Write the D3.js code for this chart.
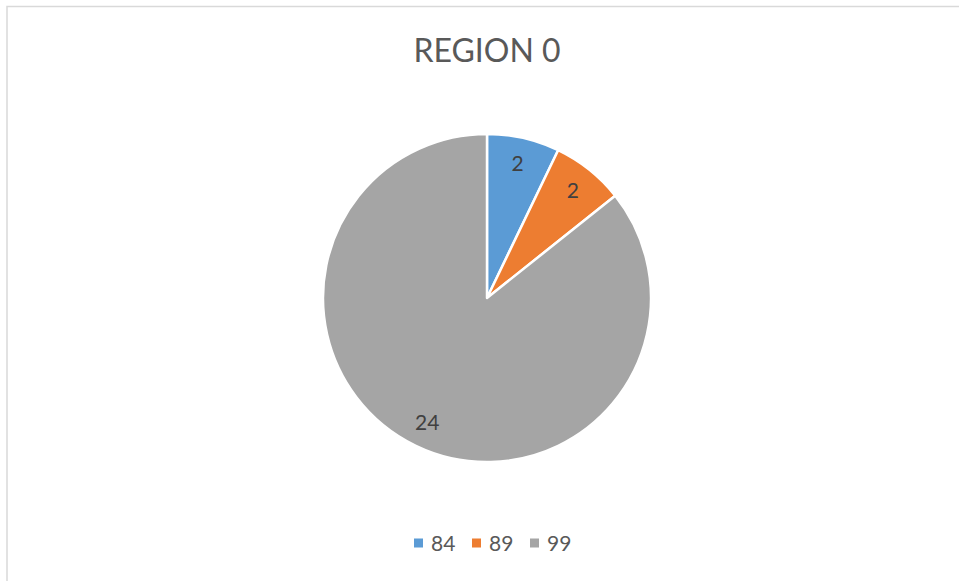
<!DOCTYPE html>
<html>
<head>
<meta charset="utf-8">
<script src="https://cdn.jsdelivr.net/npm/d3@7"></script>
<style>
  html, body { margin: 0; padding: 0; background: #fff; }
  svg { display: block; }
</style>
</head>
<body>
<script>
const title = 'REGION 0';
const categories = ['84', '89', '99'];
const values = [2, 2, 24];
const colors = ['#5B9BD5', '#ED7D31', '#A5A5A5'];

const width = 959, height = 581;
const cx = 487, cy = 298, radius = 164;
const font = 'Lato, "Open Sans", sans-serif';

const svg = d3.select('body').append('svg')
    .attr('width', width)
    .attr('height', height);

// chart area border (only top and left edges fall inside the window)
svg.append('rect')
    .attr('x', 7).attr('y', 6.5)
    .attr('width', width).attr('height', height)
    .attr('fill', '#fff')
    .attr('stroke', '#d9d9d9')
    .attr('stroke-width', 1.5);

svg.append('text')
    .attr('x', cx).attr('y', 62)
    .attr('text-anchor', 'middle')
    .attr('font-family', font)
    .attr('font-size', 32)
    .attr('fill', '#595959')
    .text(title);

const color = d3.scaleOrdinal().domain(categories).range(colors);

const pie = d3.pie().sort(null).value(d => d.value);
const arcs = pie(categories.map((c, i) => ({ cat: c, value: values[i] })));

const arc = d3.arc().innerRadius(0).outerRadius(radius);
const labelArc = d3.arc().innerRadius(radius * 0.84).outerRadius(radius * 0.84);

const g = svg.append('g').attr('transform', 'translate(' + cx + ',' + cy + ')');

g.selectAll('path.slice')
    .data(arcs)
    .enter().append('path')
    .attr('class', 'slice')
    .attr('d', arc)
    .attr('fill', d => color(d.data.cat))
    .attr('stroke', '#fff')
    .attr('stroke-width', 2.5)
    .attr('stroke-linejoin', 'round');

g.selectAll('text.lbl')
    .data(arcs)
    .enter().append('text')
    .attr('class', 'lbl')
    .attr('transform', d => 'translate(' + labelArc.centroid(d) + ')')
    .attr('text-anchor', 'middle')
    .attr('dy', '0.36em')
    .attr('font-family', font)
    .attr('font-size', 21)
    .attr('fill', '#404040')
    .text(d => d.data.value);

// legend
const legendX = d3.scalePoint().domain(categories).range([414, 530]);
const legend = svg.append('g');
const items = legend.selectAll('g')
    .data(categories)
    .enter().append('g')
    .attr('transform', d => 'translate(' + legendX(d) + ',543)');
items.append('rect')
    .attr('x', 0).attr('y', -4.5)
    .attr('width', 9).attr('height', 9)
    .attr('fill', d => color(d));
items.append('text')
    .attr('x', 17).attr('dy', '0.36em')
    .attr('font-family', font)
    .attr('font-size', 21)
    .attr('fill', '#595959')
    .text(d => d);
</script>
</body>
</html>
